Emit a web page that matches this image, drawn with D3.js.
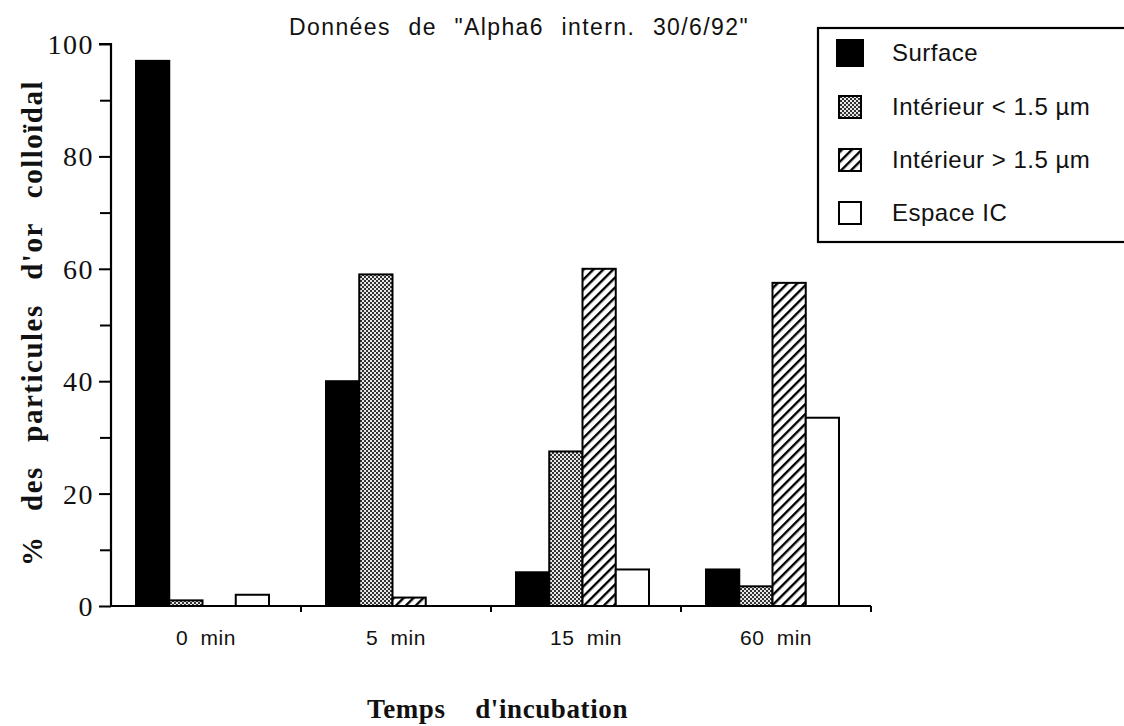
<!DOCTYPE html>
<html><head><meta charset="utf-8">
<script src="https://cdn.jsdelivr.net/npm/d3@7"></script>
<style>body{margin:0;background:#fff}svg{display:block}</style>
</head><body>
<svg id="c" width="1124" height="726"></svg>
<script>
const categories = ["0 min", "5 min", "15 min", "60 min"];
const seriesNames = ["Surface", "Intérieur < 1.5 µm", "Intérieur > 1.5 µm", "Espace IC"];
const surface = [97, 40, 6, 6.5];
const interieurPetit = [1, 59, 27.5, 3.5];
const interieurGrand = [0, 1.5, 60, 57.5];
const espaceIC = [2, 0, 6.5, 33.5];
const yTicks = [0, 20, 40, 60, 80, 100];
const yMinorTicks = [10, 30, 50, 70, 90];
const title = "Données de \"Alpha6 intern. 30/6/92\"";
const yLabel = "% des particules d'or colloïdal";
const xLabel = "Temps d'incubation";

const seriesValues = [surface, interieurPetit, interieurGrand, espaceIC];
const fills = ["#000", "url(#dots)", "url(#hatch)", "#fff"];
const SANS = "'Liberation Sans', Arial, sans-serif";
const SERIF = "'Liberation Serif', 'Times New Roman', serif";

const svg = d3.select("#c");
const defs = svg.append("defs");
const dp = defs.append("pattern").attr("id","dots").attr("patternUnits","userSpaceOnUse").attr("width",4).attr("height",4);
dp.append("rect").attr("width",4).attr("height",4).attr("fill","#e8e8e8");
dp.append("rect").attr("x",0).attr("y",0).attr("width",2).attr("height",2).attr("fill","#333");
dp.append("rect").attr("x",2).attr("y",2).attr("width",2).attr("height",2).attr("fill","#333");
const hp = defs.append("pattern").attr("id","hatch").attr("patternUnits","userSpaceOnUse").attr("width",7).attr("height",7).attr("patternTransform","rotate(45)");
hp.append("rect").attr("width",7).attr("height",7).attr("fill","#fff");
hp.append("rect").attr("x",0).attr("y",0).attr("width",2.4).attr("height",7).attr("fill","#000");

function fitWords(sel, target) {
  const n = sel.text().split(" ").length - 1;
  const w = sel.node().getComputedTextLength();
  if (n > 0 && w < target) sel.attr("word-spacing", (target - w) / n);
}

const x0 = 111, x1 = 871, yTop = 44, yBot = 606;
const x = d3.scaleBand().domain(categories).range([x0, x1]).padding(0);
const y = d3.scaleLinear().domain([0, 100]).range([yBot, yTop]);
const inner = d3.scaleBand().domain(d3.range(4)).range([25, 158]).padding(0);

// bars
categories.forEach((c, ci) => {
  seriesValues.forEach((vals, si) => {
    const v = vals[ci];
    if (v <= 0) return;
    svg.append("rect")
      .attr("x", x(c) + inner(si))
      .attr("y", y(v))
      .attr("width", inner.bandwidth())
      .attr("height", y(0) - y(v))
      .attr("fill", fills[si])
      .attr("stroke", "#000").attr("stroke-width", 2);
  });
});

// y axis
const ya = svg.append("g").attr("transform", `translate(${x0},0)`)
  .call(d3.axisLeft(y).tickValues(yTicks).tickSize(12).tickPadding(5).tickFormat(d3.format("d")));
ya.select(".domain").attr("stroke-width", 2.2).attr("d", `M-12,${yTop}H0V${yBot}`);
ya.selectAll(".tick line").attr("stroke-width", 2);
ya.selectAll(".tick text").attr("font-family", SERIF).attr("font-size", 28).attr("letter-spacing", 1.5).attr("fill","#111").attr("dy","0.34em");
const ym = svg.append("g").attr("transform", `translate(${x0},0)`)
  .call(d3.axisLeft(y).tickValues(yMinorTicks).tickSize(11).tickFormat(""));
ym.select(".domain").remove();
ym.selectAll(".tick line").attr("stroke-width", 2);

// x axis
const xa = svg.append("g").attr("transform", `translate(0,${yBot})`)
  .call(d3.axisBottom(x).tickSize(0).tickPadding(24));
xa.select(".domain").attr("stroke-width", 2.2).attr("d", `M${x0},0H${x1}`);
xa.selectAll(".tick text").attr("font-family", SANS).attr("font-size", 21).attr("letter-spacing", 0.5).attr("fill","#111").attr("word-spacing", 6);
const bounds = categories.slice(1).map(c => x(c)).concat([x1]);
svg.append("g").selectAll("line").data(bounds).join("line")
  .attr("x1", d => d).attr("x2", d => d).attr("y1", yBot).attr("y2", yBot + 6)
  .attr("stroke", "#000").attr("stroke-width", 2);

// title
const tt = svg.append("text").attr("x", 289).attr("y", 35).text(title)
  .attr("font-family", SANS).attr("font-size", 23).attr("letter-spacing", 1.4).attr("fill","#111");
fitWords(tt, 460);

// y label
const yl = svg.append("text").attr("transform", "translate(42,566) rotate(-90)").text(yLabel)
  .attr("font-family", SERIF).attr("font-weight", "bold").attr("font-size", 29).attr("letter-spacing", 1.5).attr("fill","#111");
fitWords(yl, 486);

// x label
const xl = svg.append("text").attr("x", 367).attr("y", 718).text(xLabel)
  .attr("font-family", SERIF).attr("font-weight", "bold").attr("font-size", 27).attr("letter-spacing", 0.6).attr("fill","#111");
fitWords(xl, 261);

// legend
svg.append("rect").attr("x", 818).attr("y", 28).attr("width", 320).attr("height", 214)
  .attr("fill", "#fff").attr("stroke", "#000").attr("stroke-width", 2.2);
const legY = [53, 107, 160, 213];
const swSize = [26, 22, 22, 22];
seriesNames.forEach((n, i) => {
  const s = swSize[i];
  svg.append("rect").attr("x", 850 - s/2).attr("y", legY[i] - s/2).attr("width", s).attr("height", s)
    .attr("fill", fills[i]).attr("stroke", "#000").attr("stroke-width", 2);
  svg.append("text").attr("x", 892).attr("y", legY[i] + 8).text(n)
    .attr("font-family", SANS).attr("font-size", 24).attr("letter-spacing", 0.5).attr("fill","#111");
});
</script>
</body></html>
